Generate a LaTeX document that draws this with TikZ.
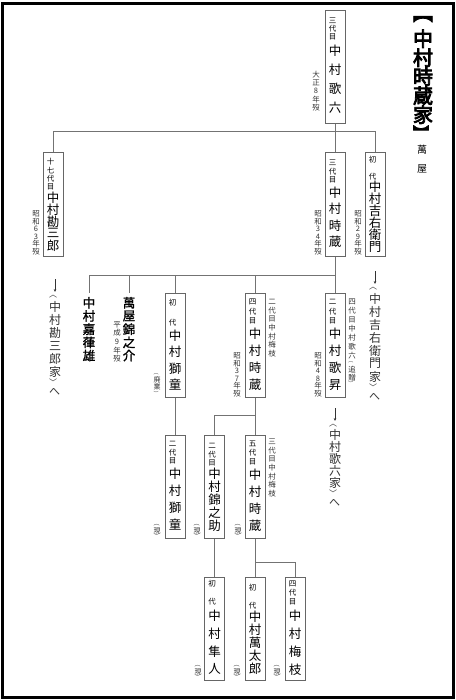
\documentclass[tikz,border=0pt]{standalone}
\usepackage{fontspec}
\setmainfont{Noto Sans CJK JP}
\newfontfamily\jpbold[FakeBold=1.5]{Noto Sans CJK JP}
\newfontfamily\jpheavy[FakeBold=4]{Noto Sans CJK JP}
\usetikzlibrary{arrows.meta}

% vertical writing: one character per cell
\newcommand{\tate}[3]{%
  \fontsize{#1}{#1}\selectfont
  \foreach \tch in {#3}{\hbox to #1pt{\hss\vbox to #2pt{\vss\hbox{\tch}\vss}\hss}}}
\newcommand{\tbox}[1]{\vbox{\offinterlineskip #1}}
\newcommand{\gen}{\tbox{\tate{6}{3.5}{︵}\tate{7}{7}{現}\tate{6}{3.5}{︶}}}

\tikzset{
  namebox/.style={draw=black!60, line width=0.7pt, inner xsep=2pt, inner ysep=2pt,
    anchor=north, minimum width=20pt, minimum height=#1},
  plainname/.style={inner xsep=0pt, inner ysep=3pt, anchor=north},
  note/.style={inner sep=0pt, anchor=north, text=black!80},
  link/.style={draw=black!55, line width=0.8pt},
}

\begin{document}
\begin{tikzpicture}[x=1pt,y=-1pt,>={Stealth[length=3pt,width=2.6pt]}]
  \useasboundingbox (0,0) rectangle (455,700);
  \draw[line width=2.7pt] (2.5,3.3) rectangle (453.6,697.8);

  % title
  \node[note,text=black] (title) at (423,9) {\tbox{\jpheavy\tate{20}{20}{︻}\tate{20}{19}{中,村,時,蔵,家}\tate{16}{16}{︼}}};
  \node[note,text=black] (yago) at (422,140) {\tbox{\tate{10}{19}{萬,屋}}};

  % first generation
  \node[namebox=113pt] (rk3) at (335,10) {\tbox{\tate{7.5}{8.5}{三,代,目}\tate{12.5}{19}{中,村,歌,六}}};
  \node[note] (rk3d) at (316,70) {\tbox{\tate{7.5}{8.4}{大,正,8,年,歿}}};

  % second generation
  \node[namebox=104pt] (kz17) at (53,152) {\tbox{\tate{7.5}{8.5}{十,七,代,目}\tate{12.5}{12}{中,村,勘,三,郎}}};
  \node[note] (kz17d) at (36,210) {\tbox{\tate{7.5}{7.5}{昭,和,6,3,年,歿}}};
  \node[namebox=104pt] (tz3) at (335,152) {\tbox{\tate{7.5}{8.5}{三,代,目}\tate{12.5}{16.5}{中,村,時,蔵}}};
  \node[note] (tz3d) at (318,210) {\tbox{\tate{7.5}{7.5}{昭,和,3,4,年,歿}}};
  \node[namebox=104pt] (ke1) at (375,152) {\tbox{\tate{7.5}{8.5}{初,{},代}\tate{12.5}{12}{中,村,吉,右,衛,門}}};
  \node[note] (ke1d) at (358,210) {\tbox{\tate{7.5}{7.5}{昭,和,2,9,年,歿}}};

  \coordinate (kzha) at (55,279);
  \node[note] (kzh) at (55,292) {\tbox{\tate{8}{8}{︿}\tate{12}{13}{中,村,勘,三,郎,家}\tate{8}{8}{﹀}\tate{11}{12}{へ}}};
  \coordinate (keha) at (375,271);
  \node[note] (keh) at (375,284) {\tbox{\tate{8}{8}{︿}\tate{12}{13}{中,村,吉,右,衛,門,家}\tate{8}{8}{﹀}\tate{11}{12}{へ}}};

  % third generation
  \node[plainname] (kayo) at (89,293) {\tbox{\jpbold\tate{12.5}{13.2}{中,村,嘉,葎,雄}}};
  \node[plainname] (kinn) at (129,293) {\tbox{\jpbold\tate{12.5}{13.2}{萬,屋,錦,之,介}}};
  \node[note] (kinnd) at (117,320) {\tbox{\tate{7.5}{8.6}{平,成,9,年,歿}}};
  \node[namebox=104pt] (sd1) at (175,293) {\tbox{\tate{7.5}{10}{初,{},代}\tate{12.5}{16.5}{中,村,獅,童}}};
  \node[note,anchor=south] (sd1d) at (157,396) {\tbox{\tate{5}{5}{︵}\tate{7}{7}{廃,業}\tate{5}{5}{︶}}};
  \node[namebox=104pt] (tz4) at (255,293) {\tbox{\tate{7.5}{9.5}{四,代,目}\tate{12.5}{17}{中,村,時,蔵}}};
  \node[note] (tz4r) at (272,297) {\tbox{\tate{7.5}{8.7}{二,代,目,中,村,梅,枝}}};
  \node[note] (tz4d) at (237,352) {\tbox{\tate{7.5}{7.5}{昭,和,3,7,年,歿}}};
  \node[namebox=104pt] (ks2) at (335,293) {\tbox{\tate{7.5}{9.5}{二,代,目}\tate{12.5}{17}{中,村,歌,昇}}};
  \node[note] (ks2r) at (352,297) {\tbox{\tate{7.5}{9}{四,代,目,中,村,歌,六}\tate{5}{5}{︵}\tate{7.5}{8}{追,贈}\tate{5}{5}{︶}}};
  \node[note] (ks2d) at (318,352) {\tbox{\tate{7.5}{7.5}{昭,和,4,8,年,歿}}};

  \coordinate (krha) at (335,408);
  \node[note] (krh) at (335,421) {\tbox{\tate{8}{8}{︿}\tate{12}{12}{中,村,歌,六,家}\tate{8}{8}{﹀}\tate{11}{12}{へ}}};

  % fourth generation
  \node[namebox=103pt] (sd2) at (175,435) {\tbox{\tate{7.5}{8.5}{二,代,目}\tate{12.5}{17}{中,村,獅,童}}};
  \node[note,anchor=south] (sd2g) at (157,538) {\gen};
  \node[namebox=103pt] (kn2) at (214.5,435) {\tbox{\tate{7.5}{8.5}{二,代,目}\tate{12.5}{13}{中,村,錦,之,助}}};
  \node[note,anchor=south] (kn2g) at (197,538) {\gen};
  \node[namebox=103pt] (tz5) at (255,435) {\tbox{\tate{7.5}{9}{五,代,目}\tate{12.5}{17}{中,村,時,蔵}}};
  \node[note,anchor=south] (tz5g) at (238,538) {\gen};
  \node[note] (tz5r) at (272,437) {\tbox{\tate{7.5}{8.7}{三,代,目,中,村,梅,枝}}};

  % fifth generation
  \node[namebox=103pt] (hy1) at (214.5,577) {\tbox{\tate{7.5}{9}{初,{},代}\tate{12.5}{18}{中,村,隼,人}}};
  \node[note,anchor=south] (hy1g) at (198,679) {\gen};
  \node[namebox=103pt] (mt1) at (255,577) {\tbox{\tate{7.5}{9}{初,{},代}\tate{12.5}{13}{中,村,萬,太,郎}}};
  \node[note,anchor=south] (mt1g) at (237,679) {\gen};
  \node[namebox=103pt] (ue4) at (295,577) {\tbox{\tate{7.5}{9}{四,代,目}\tate{12.5}{18}{中,村,梅,枝}}};
  \node[note,anchor=south] (ue4g) at (277,679) {\gen};

  % lines
  \draw[link] (rk3) -- (tz3);
  \draw[link] (rk3.south) -- ++(0,8) -| (kz17.north);
  \draw[link] (rk3.south) -- ++(0,8) -| (ke1.north);
  \draw[link] (tz3) -- (ks2);
  \foreach \n in {kayo,kinn,sd1,tz4}
    \draw[link] (tz3.south) -- ++(0,19) -| (\n.north);
  \draw[link] (sd1) -- (sd2);
  \draw[link] (tz4) -- (tz5);
  \draw[link] (tz4.south) -- ++(0,18) -| (kn2.north);
  \draw[link] (kn2) -- (hy1);
  \draw[link] (tz5) -- (mt1);
  \draw[link] (tz5.south) -- ++(0,24) -| (ue4.north);

  \draw[->, black!80, line width=0.5pt] (kzha) -- (kzh.north);
  \draw[->, black!80, line width=0.5pt] (keha) -- (keh.north);
  \draw[->, black!80, line width=0.5pt] (krha) -- (krh.north);
\end{tikzpicture}
\end{document}
